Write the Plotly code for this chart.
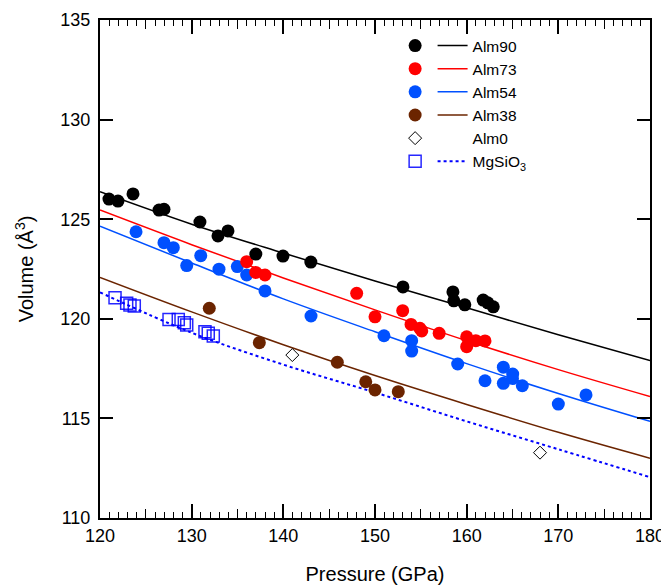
import plotly.graph_objects as go

# ---- data ----
alm90_p = [120.98, 121.96, 123.6, 126.44, 126.98, 130.9, 132.87, 133.96, 137.0, 139.96, 143.0,
           153.05, 158.5, 158.6, 159.8, 161.8, 162.3, 162.9]
alm90_v = [126.01, 125.91, 126.27, 125.46, 125.50, 124.86, 124.16, 124.41, 123.25, 123.15, 122.85,
           121.6, 121.35, 120.9, 120.7, 120.94, 120.8, 120.6]

alm73_p = [119.9, 136.0, 136.99, 138.0, 148.0, 150.0, 153.02, 153.93, 154.9, 155.1, 157.0,
           160.0, 160.0, 161.0, 162.0]
alm73_v = [125.06, 122.87, 122.33, 122.2, 121.28, 120.1, 120.41, 119.72, 119.52, 119.39, 119.27,
           119.1, 118.6, 118.9, 118.89]

alm54_p = [123.93, 126.98, 128.0, 129.46, 130.99, 132.98, 134.98, 136.0, 138.0, 143.02, 150.98,
           154.0, 154.0, 159.02, 162.0, 164.0, 164.0, 165.02, 165.0, 166.07, 170.0, 173.02]
alm54_v = [124.37, 123.82, 123.57, 122.67, 123.17, 122.49, 122.62, 122.2, 121.4, 120.14, 119.15,
           118.9, 118.38, 117.73, 116.89, 117.57, 116.76, 117.23, 117.0, 116.64, 115.72, 116.18]

alm38_p = [131.92, 137.38, 145.89, 148.99, 150.0, 152.54]
alm38_v = [120.53, 118.8, 117.82, 116.84, 116.43, 116.34]

alm0_p = [140.98, 168.0]
alm0_v = [118.18, 113.28]

mgsio3_p = [121.64, 122.91, 123.27, 123.74, 127.53, 128.54, 129.2, 129.46, 131.45, 131.81, 132.36]
mgsio3_v = [121.06, 120.78, 120.69, 120.64, 119.97, 119.97, 119.8, 119.69, 119.35, 119.27, 119.14]

fit_p = [120, 130, 140, 150, 160, 170, 180]
alm90_fit = [126.38, 124.75, 123.3, 121.9, 120.55, 119.2, 117.9]
alm73_fit = [125.46, 123.72, 122.05, 120.45, 118.9, 117.45, 116.1]
alm54_fit = [124.65, 122.8, 121.0, 119.35, 117.75, 116.25, 114.85]
alm38_fit = [122.08, 120.35, 118.7, 117.15, 115.7, 114.3, 113.0]
mgsio3_fit = [121.33, 119.3, 117.7, 116.3, 114.85, 113.45, 112.05]

names = ["Alm90", "Alm73", "Alm54", "Alm38", "Alm0", "MgSiO<sub>3</sub>"]
BLACK, RED, BLUE, BROWN, MBLUE = "#000000", "#ff0000", "#0050ff", "#6b2400", "#0000ff"

FONT = "Liberation Sans, Arial, sans-serif"
LEGEND_SIZE = 15.5
fig = go.Figure()

# ---- fit lines (legend2: line + label) ----
fits = [(alm90_fit, BLACK, names[0]), (alm73_fit, RED, names[1]),
        (alm54_fit, BLUE, names[2]), (alm38_fit, BROWN, names[3])]
for vals, col, nm in fits:
    fig.add_trace(go.Scatter(x=fit_p, y=vals, mode="lines", line=dict(color=col, width=1.5, shape="spline"),
                             name=nm, legend="legend2", hoverinfo="skip"))
fig.add_trace(go.Scatter(x=[None], y=[None], mode="lines", line=dict(color="rgba(0,0,0,0)", width=1.5),
                         name=names[4], legend="legend2", hoverinfo="skip"))
fig.add_trace(go.Scatter(x=fit_p, y=mgsio3_fit, mode="lines",
                         line=dict(color=MBLUE, width=2, dash="3px,3px", shape="spline"),
                         name=names[5], legend="legend2", hoverinfo="skip"))

# ---- data points (legend: symbols only) ----
pts = [
    (mgsio3_p, mgsio3_v, dict(symbol="square-open", size=12, color="rgba(0,0,255,0.85)", line=dict(width=1.5)), names[5], 5),
    (alm0_p, alm0_v, dict(symbol="diamond-open", size=10, color=BLACK, line=dict(width=1)), names[4], 4),
    (alm38_p, alm38_v, dict(symbol="circle", size=13, color=BROWN), names[3], 3),
    (alm54_p, alm54_v, dict(symbol="circle", size=13, color=BLUE), names[2], 2),
    (alm73_p, alm73_v, dict(symbol="circle", size=13, color=RED), names[1], 1),
    (alm90_p, alm90_v, dict(symbol="circle", size=13, color=BLACK), names[0], 0),
]
for px, pv, mk, nm, rank in pts:
    fig.add_trace(go.Scatter(x=px, y=pv, mode="markers", marker=mk, name=" ", legend="legend",
                             legendrank=rank + 1, cliponaxis=False,
                             hovertemplate=nm + "<br>P=%{x} GPa<br>V=%{y} Å³<extra></extra>"))

# helper empty traces for the 5-GPa intermediate ticks
fig.add_trace(go.Scatter(x=[None], y=[None], xaxis="x2", showlegend=False, hoverinfo="skip"))
fig.add_trace(go.Scatter(x=[None], y=[None], xaxis="x3", showlegend=False, hoverinfo="skip"))

axis_common = dict(showgrid=False, zeroline=False, ticks="inside", tickcolor="black", tickwidth=1.5,
                   linecolor="black", linewidth=2, automargin=False,
                   tickfont=dict(family=FONT, size=18, color="black"))
sub_axis = dict(range=[120, 180], dtick=5, tick0=120, ticklen=9, overlaying="x", anchor="y",
                showticklabels=False, showline=False, showgrid=False, zeroline=False, automargin=False,
                ticks="inside", tickcolor="black", tickwidth=1.3)

fig.update_layout(
    width=661, height=580,
    margin=dict(l=92, r=19, t=12, b=70, autoexpand=False),
    paper_bgcolor="white", plot_bgcolor="white",
    font=dict(family=FONT, color="black"),
    xaxis=dict(range=[120, 180], dtick=10, tick0=120, ticklen=14, showline=True, mirror="ticks",
               minor=dict(dtick=1, ticks="inside", ticklen=6, tickcolor="black", tickwidth=1.2),
               title=dict(text="Pressure (GPa)", font=dict(family=FONT, size=20), standoff=22),
               **axis_common),
    xaxis2=dict(side="bottom", **sub_axis),
    xaxis3=dict(side="top", **sub_axis),
    yaxis=dict(range=[110, 135], dtick=5, ticklen=13, showline=True, mirror="ticks",
               ticklabelstandoff=4,
               title=dict(text="Volume (Å<sup>3</sup>)", font=dict(family=FONT, size=20), standoff=21),
               **axis_common),
    legend=dict(x=0.5366, y=0.982, xanchor="left", yanchor="top", bgcolor="rgba(0,0,0,0)",
                font=dict(family=FONT, size=LEGEND_SIZE), traceorder="normal", itemwidth=30),
    legend2=dict(x=0.6047, y=0.982, xanchor="left", yanchor="top", bgcolor="rgba(0,0,0,0)",
                 font=dict(family=FONT, size=LEGEND_SIZE), traceorder="normal", itemwidth=30),
    showlegend=True,
)

fig.write_html("out.html")
